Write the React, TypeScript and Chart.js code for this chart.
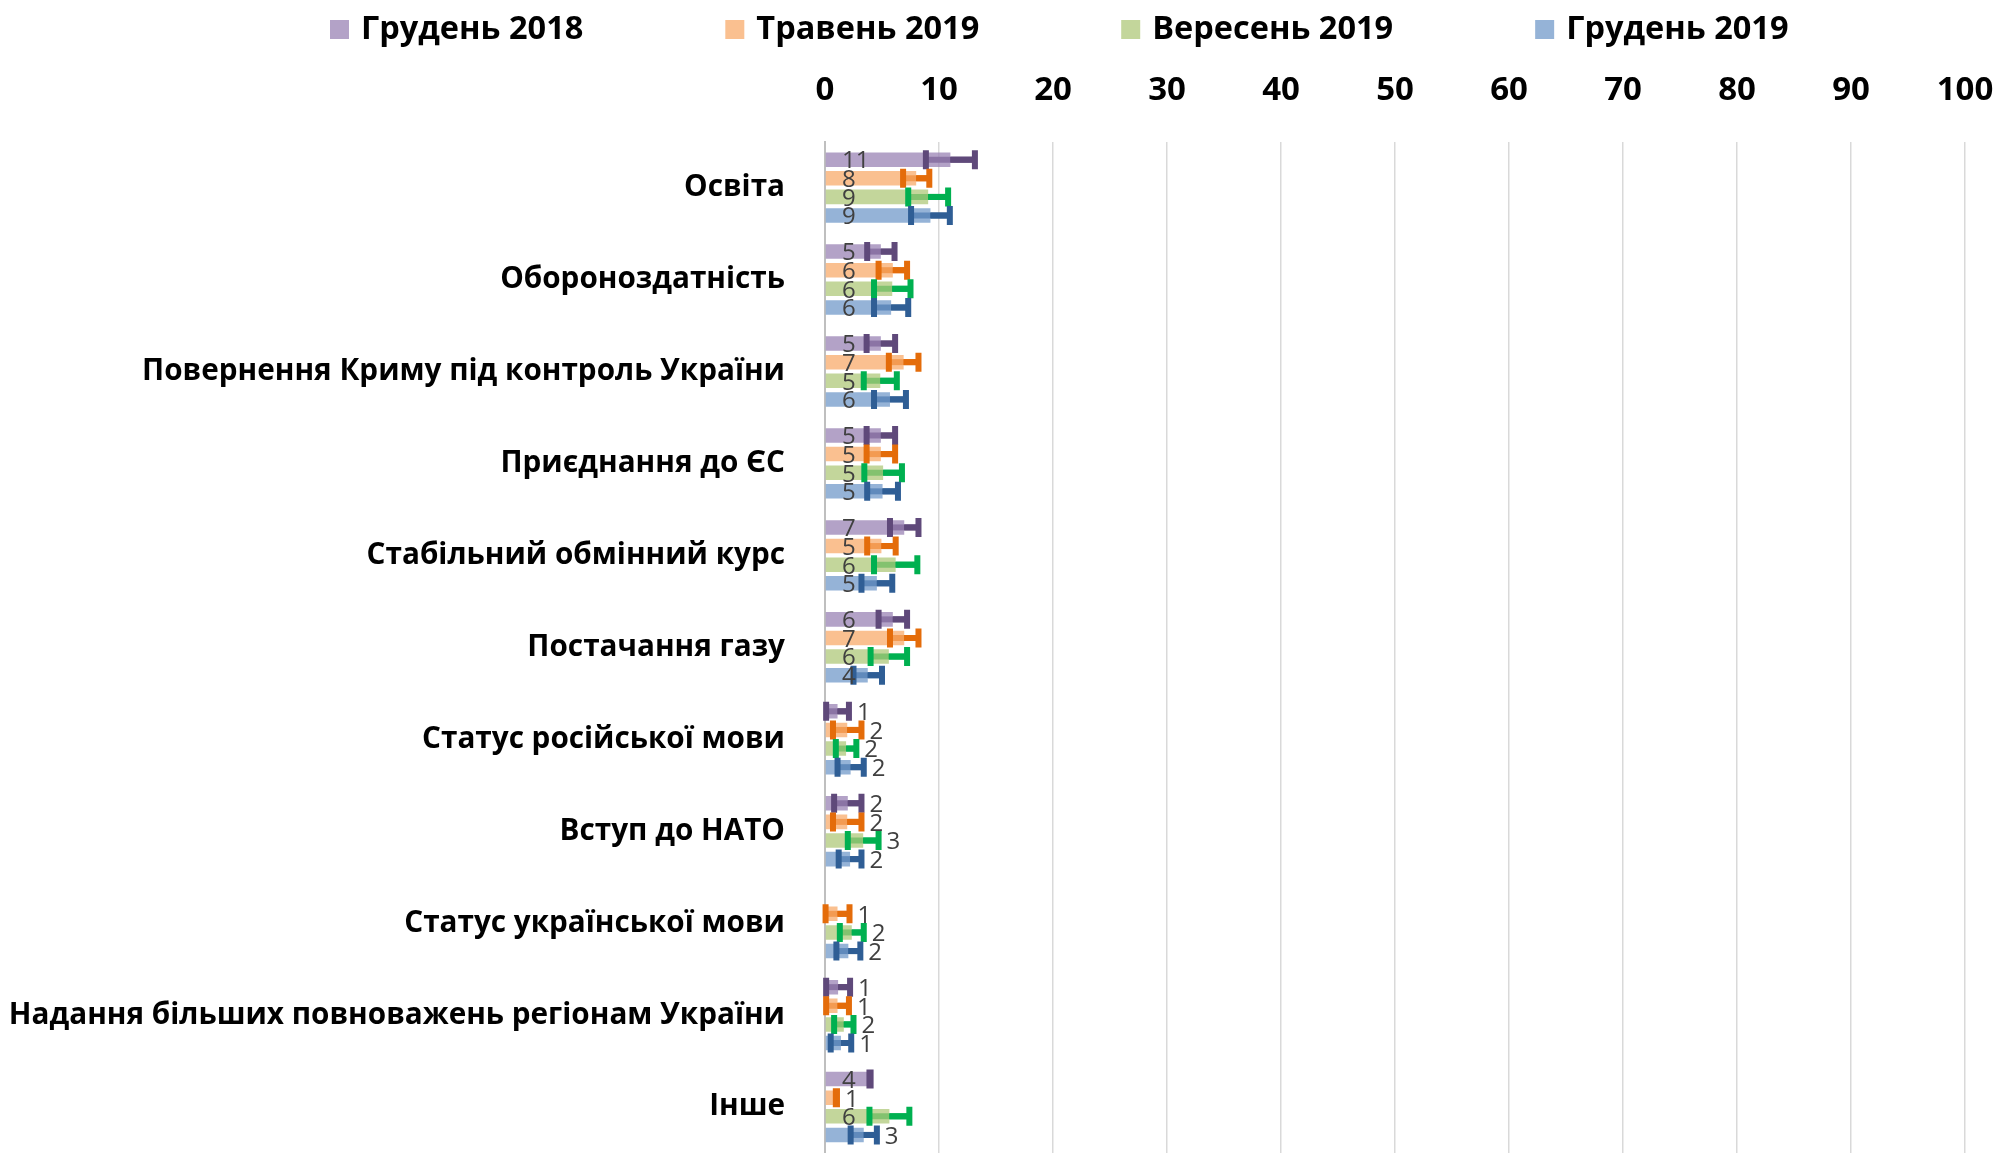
import React, { useEffect, useRef } from "react";
import { Chart, registerables } from "chart.js";

Chart.register(...registerables);

const categories = [
  "Освіта",
  "Обороноздатність",
  "Повернення Криму під контроль України",
  "Приєднання до ЄС",
  "Стабільний обмінний курс",
  "Постачання газу",
  "Статус російської мови",
  "Вступ до НАТО",
  "Статус української мови",
  "Надання більших повноважень регіонам України",
  "Інше",
];

const seriesLabels = ["Грудень 2018", "Травень 2019", "Вересень 2019", "Грудень 2019"];

const dec2018 = [11.0, 4.9, 4.9, 4.9, 6.95, 5.95, 1.1, 2.0, null, 1.15, 3.95];
const may2019 = [8.0, 5.95, 6.9, 4.9, 4.95, 6.95, 1.95, 1.95, 1.1, 1.1, 1.0];
const sep2019 = [9.05, 5.9, 4.85, 5.1, 6.2, 5.6, 1.85, 3.35, 2.35, 1.65, 5.65];
const dec2019 = [9.25, 5.8, 5.7, 5.05, 4.55, 3.75, 2.25, 2.2, 2.05, 1.4, 3.4];

const dec2018Err = [2.15, 1.2, 1.25, 1.25, 1.25, 1.25, 1.0, 1.2, 0, 1.05, 0.05];
const may2019Err = [1.15, 1.25, 1.3, 1.25, 1.25, 1.25, 1.25, 1.25, 1.05, 1.0, 0.05];
const sep2019Err = [1.75, 1.6, 1.45, 1.65, 1.9, 1.6, 0.9, 1.35, 1.05, 0.85, 1.75];
const dec2019Err = [1.7, 1.5, 1.4, 1.35, 1.35, 1.25, 1.15, 1.0, 1.05, 0.9, 1.15];

const xTicksMin = 0;
const xTicksMax = 100;
const xTicksStep = 10;

const seriesValues = [dec2018, may2019, sep2019, dec2019];
const seriesErrors = [dec2018Err, may2019Err, sep2019Err, dec2019Err];
const barFill = [
  "rgba(154,131,180,0.75)",
  "rgba(248,171,107,0.75)",
  "rgba(175,200,122,0.75)",
  "rgba(114,154,202,0.75)",
];
const legendFill = ["#B3A2C7", "#FAC090", "#C3D69B", "#95B3D7"];
const errColors = ["#5F497A", "#E46C0A", "#00B050", "#2F5E95"];

const FONT = '"Open Sans", "DejaVu Sans", sans-serif';

const errorBarsPlugin = {
  id: "errorBars",
  beforeDatasetsDraw(chart: any) {
    const ctx = chart.ctx;
    const xs = chart.scales.x;
    ctx.save();
    chart.data.datasets.forEach((ds: any, di: number) => {
      const meta = chart.getDatasetMeta(di);
      meta.data.forEach((el: any, i: number) => {
        const v = ds.data[i];
        if (v === null || v === undefined) return;
        const e = seriesErrors[di][i];
        const x1 = xs.getPixelForValue(v - e);
        const x2 = xs.getPixelForValue(v + e);
        ctx.strokeStyle = errColors[di];
        ctx.lineWidth = 6;
        ctx.beginPath();
        ctx.moveTo(x1, el.y);
        ctx.lineTo(x2, el.y);
        ctx.stroke();
      });
    });
    ctx.restore();
  },
  afterDatasetsDraw(chart: any) {
    const ctx = chart.ctx;
    const xs = chart.scales.x;
    ctx.save();
    chart.data.datasets.forEach((ds: any, di: number) => {
      const meta = chart.getDatasetMeta(di);
      meta.data.forEach((el: any, i: number) => {
        const v = ds.data[i];
        if (v === null || v === undefined) return;
        const e = seriesErrors[di][i];
        const x1 = xs.getPixelForValue(v - e);
        const x2 = xs.getPixelForValue(v + e);
        const half = 9.5;
        ctx.strokeStyle = errColors[di];
        ctx.lineWidth = 6;
        ctx.beginPath();
        ctx.moveTo(x1, el.y - half);
        ctx.lineTo(x1, el.y + half);
        ctx.moveTo(x2, el.y - half);
        ctx.lineTo(x2, el.y + half);
        ctx.stroke();
        const barEnd = xs.getPixelForValue(v);
        if (x2 > barEnd) {
          ctx.beginPath();
          ctx.moveTo(barEnd, el.y);
          ctx.lineTo(x2, el.y);
          ctx.stroke();
        }
      });
    });
    ctx.restore();
  },
};

const valueLabelsPlugin = {
  id: "valueLabels",
  afterDatasetsDraw(chart: any) {
    const ctx = chart.ctx;
    const xs = chart.scales.x;
    ctx.save();
    ctx.font = "24px " + FONT;
    ctx.fillStyle = "#404040";
    ctx.textAlign = "left";
    ctx.textBaseline = "middle";
    chart.data.datasets.forEach((ds: any, di: number) => {
      const meta = chart.getDatasetMeta(di);
      meta.data.forEach((el: any, i: number) => {
        const v = ds.data[i];
        if (v === null || v === undefined) return;
        const e = seriesErrors[di][i];
        let x;
        if (v >= 3.6) {
          x = xs.getPixelForValue(0) + 17;
        } else {
          x = xs.getPixelForValue(v + e) + 8;
        }
        ctx.fillText(String(Math.round(v)), x, el.y + 2);
      });
    });
    ctx.restore();
  },
};

const customLegendPlugin = {
  id: "customLegend",
  afterDraw(chart: any) {
    const ctx = chart.ctx;
    ctx.save();
    ctx.font = "bold 32.5px " + FONT;
    ctx.textAlign = "left";
    ctx.textBaseline = "middle";
    let x = 330;
    const y = 30;
    chart.data.datasets.forEach((ds: any, di: number) => {
      ctx.fillStyle = legendFill[di];
      ctx.fillRect(x, y - 10, 19, 19);
      ctx.fillStyle = "#000000";
      ctx.fillText(ds.label, x + 31, y);
      const w = ctx.measureText(ds.label).width;
      x += 31 + w + 142;
    });
    ctx.restore();
  },
};

export default function App() {
  const ref = useRef<HTMLCanvasElement | null>(null);
  useEffect(() => {
    if (!ref.current) return;
    const chart = new Chart(ref.current, {
      type: "bar",
      data: {
        labels: categories,
        datasets: seriesLabels.map((label, di) => ({
          label,
          data: seriesValues[di],
          backgroundColor: barFill[di],
          borderWidth: 0,
          barPercentage: 0.78,
          categoryPercentage: 0.81,
        })),
      },
      options: {
        indexAxis: "y",
        responsive: true,
        maintainAspectRatio: false,
        animation: false,
        layout: { padding: { top: 40, right: 37, left: 0, bottom: 0 } },
        scales: {
          x: {
            position: "top",
            min: xTicksMin,
            max: xTicksMax,
            ticks: {
              stepSize: xTicksStep,
              color: "#000000",
              font: { family: FONT, size: 33, weight: "bold" },
              padding: 31,
            },
            grid: { color: "#D9D9D9", lineWidth: 1.5, drawTicks: false },
            border: { display: false },
            afterFit: (s: any) => {
              s.paddingLeft = 0;
              s.paddingRight = 0;
            },
          },
          y: {
            ticks: {
              color: "#000000",
              font: { family: FONT, size: 29.7, weight: "bold" },
              padding: 40,
            },
            grid: { display: false, drawTicks: false },
            border: { display: true, color: "#BFBFBF", width: 2 },
            afterFit: (s: any) => {
              s.width = 825;
              s.paddingTop = 0;
              s.paddingBottom = 0;
            },
          },
        },
        plugins: {
          legend: { display: false },
          tooltip: { enabled: false },
        },
      },
      plugins: [errorBarsPlugin, valueLabelsPlugin, customLegendPlugin],
    } as any);
    return () => chart.destroy();
  }, []);
  return (
    <div style={{ position: "fixed", left: 0, top: 0, width: 2002, height: 1153, background: "#fff" }}>
      <canvas ref={ref} />
    </div>
  );
}
